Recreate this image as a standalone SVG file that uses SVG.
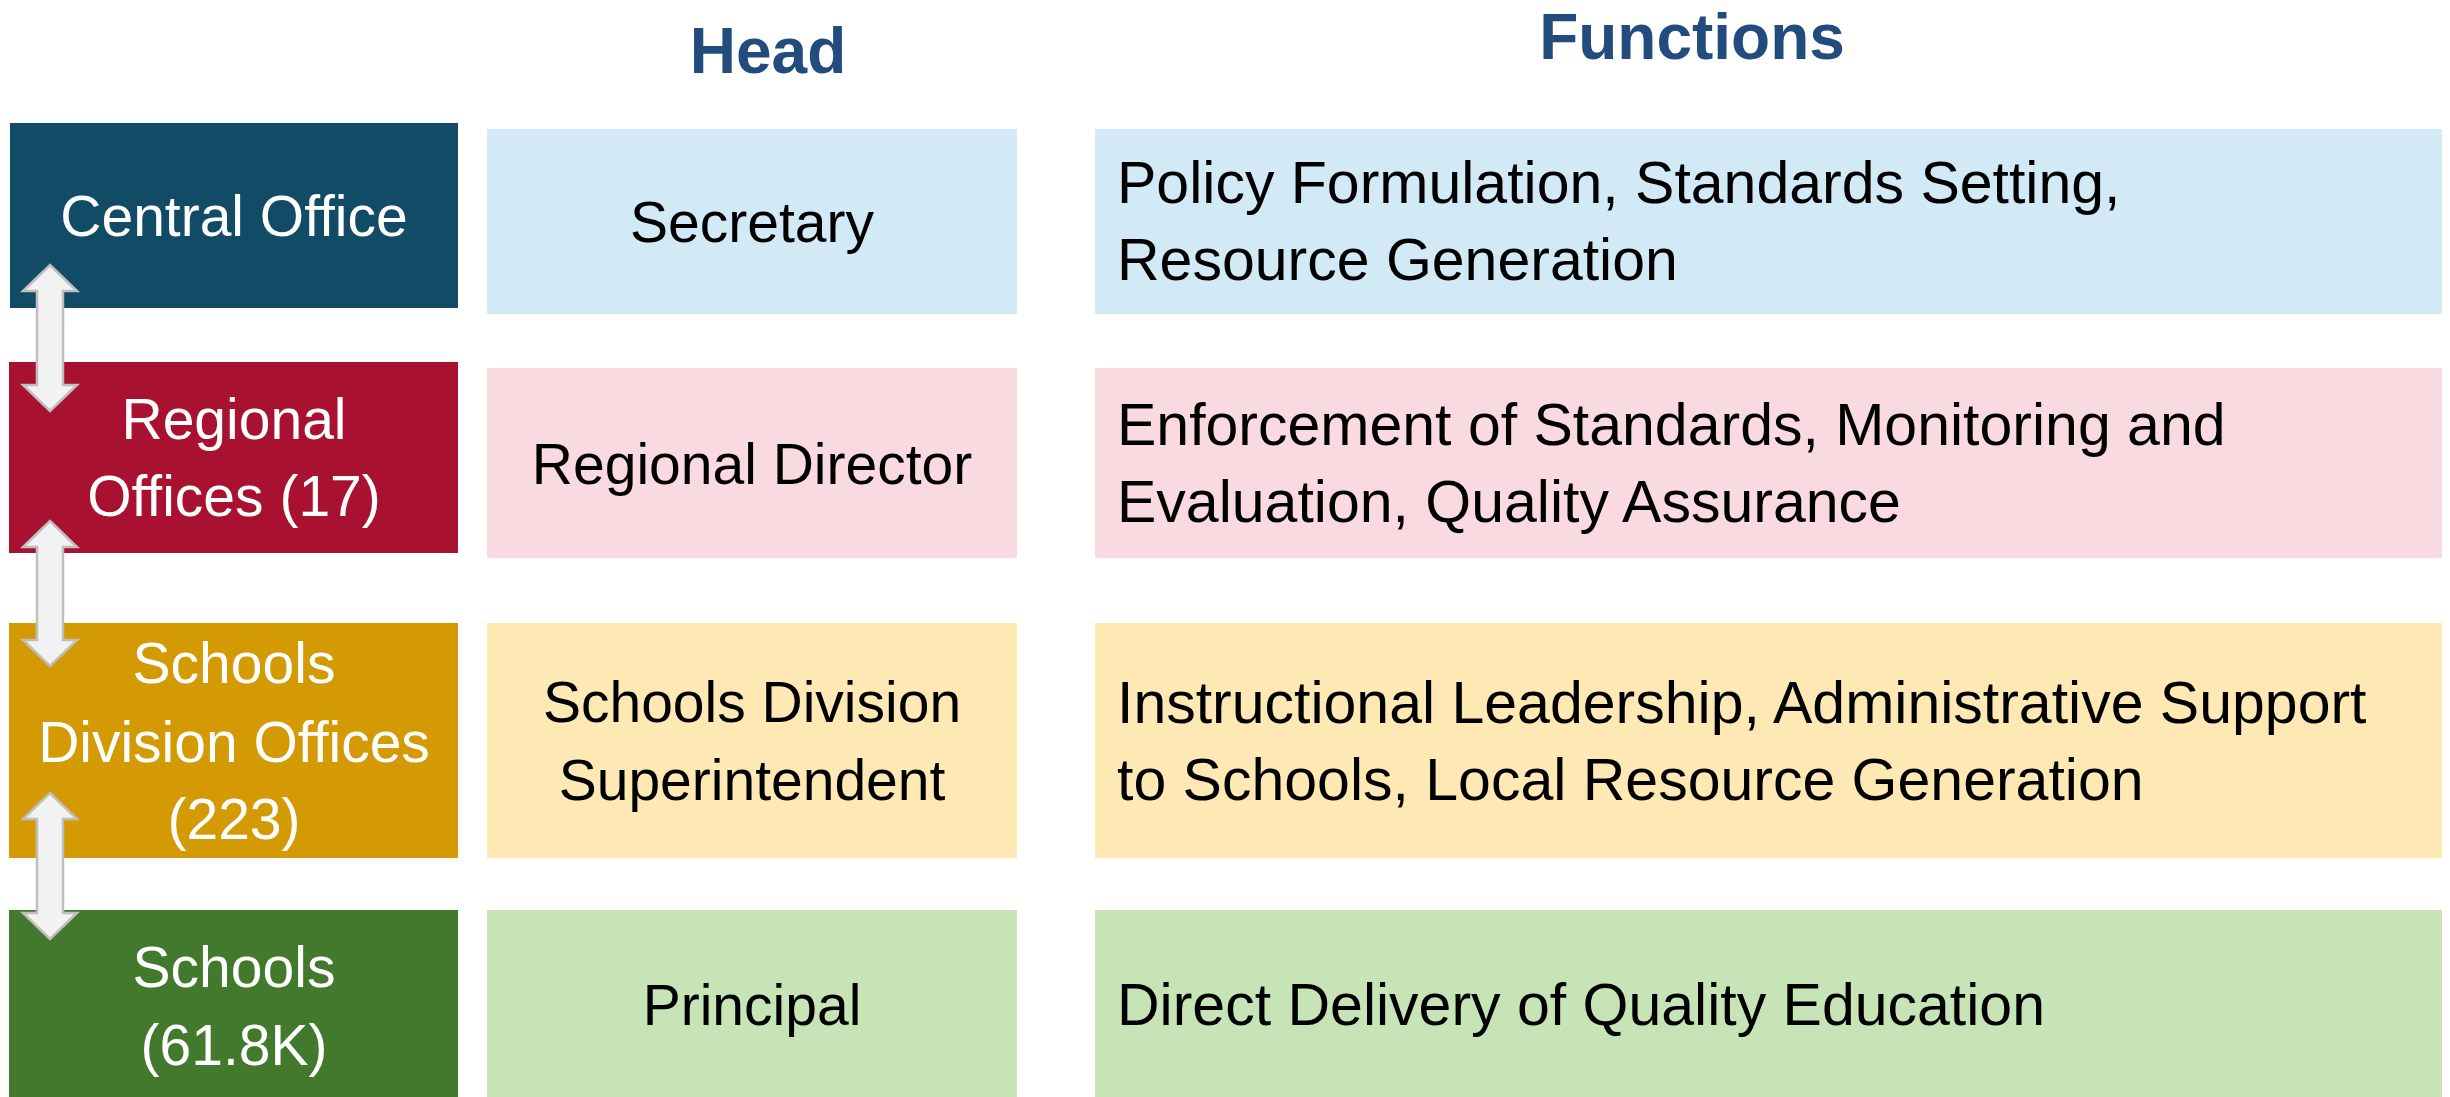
<svg xmlns="http://www.w3.org/2000/svg" width="2450" height="1097" viewBox="0 0 2450 1097">
<style>
.t{font-family:"Liberation Sans",Arial,sans-serif;font-size:57px}
.f{font-size:59px}
.w{fill:#ffffff}
.k{fill:#000000}
.h{font-family:"Liberation Sans",Arial,sans-serif;font-size:64px;font-weight:bold;fill:#234C7E}
.arr{fill:#F2F2F2;stroke:#BFBFBF;stroke-width:2.5}
</style>
<rect width="2450" height="1097" fill="#ffffff"/>
<g id="titles">
<text class="h" x="768" y="73" text-anchor="middle">Head</text>
<text class="h" x="1692" y="59" text-anchor="middle">Functions</text>
</g>
<g id="central">
<rect x="10" y="123" width="448" height="185" fill="#124B65"/>
<text class="t w" x="234" y="236" text-anchor="middle">Central Office</text>
</g>
<g id="regional">
<rect x="9" y="362" width="449" height="191" fill="#A8112F"/>
<text class="t w" x="234" y="439" text-anchor="middle">Regional</text>
<text class="t w" x="234" y="516" text-anchor="middle">Offices (17)</text>
</g>
<g id="division">
<rect x="9" y="623" width="449" height="235" fill="#D49A03"/>
<text class="t w" x="234" y="683" text-anchor="middle">Schools</text>
<text class="t w" x="234" y="762" text-anchor="middle">Division Offices</text>
<text class="t w" x="234" y="839" text-anchor="middle">(223)</text>
</g>
<g id="schools">
<rect x="9" y="910" width="449" height="190" fill="#42792D"/>
<text class="t w" x="234" y="987" text-anchor="middle">Schools</text>
<text class="t w" x="234" y="1065" text-anchor="middle">(61.8K)</text>
</g>
<g id="head-secretary">
<rect x="487" y="129" width="530" height="185" fill="#D2E9F6"/>
<text class="t k" x="752" y="242" text-anchor="middle">Secretary</text>
</g>
<g id="head-regional">
<rect x="487" y="368" width="530" height="190" fill="#FADAE1"/>
<text class="t k" x="752" y="484" text-anchor="middle">Regional Director</text>
</g>
<g id="head-division">
<rect x="487" y="623" width="530" height="235" fill="#FEE8B3"/>
<text class="t k" x="752" y="722" text-anchor="middle">Schools Division</text>
<text class="t k" x="752" y="800" text-anchor="middle">Superintendent</text>
</g>
<g id="head-principal">
<rect x="487" y="910" width="530" height="190" fill="#C6E4B6"/>
<text class="t k" x="752" y="1025" text-anchor="middle">Principal</text>
</g>
<g id="func-central">
<rect x="1095" y="129" width="1347" height="185" fill="#D2E9F6"/>
<text class="t f k" x="1117" y="203">Policy Formulation, Standards Setting,</text>
<text class="t f k" x="1117" y="280">Resource Generation</text>
</g>
<g id="func-regional">
<rect x="1095" y="368" width="1347" height="190" fill="#FADAE1"/>
<text class="t f k" x="1117" y="445">Enforcement of Standards, Monitoring and</text>
<text class="t f k" x="1117" y="522">Evaluation, Quality Assurance</text>
</g>
<g id="func-division">
<rect x="1095" y="623" width="1347" height="235" fill="#FEE8B3"/>
<text class="t f k" x="1117" y="723">Instructional Leadership, Administrative Support</text>
<text class="t f k" x="1117" y="800">to Schools, Local Resource Generation</text>
</g>
<g id="func-schools">
<rect x="1095" y="910" width="1347" height="190" fill="#C6E4B6"/>
<text class="t f k" x="1117" y="1025">Direct Delivery of Quality Education</text>
</g>
<g id="connectors">
<path class="arr" d="M50,265 L77,291 L63,291 L63,385 L77,385 L50,411 L23,385 L37,385 L37,291 L23,291 Z"/>
<path class="arr" d="M50,521 L77,547 L63,547 L63,640 L77,640 L50,666 L23,640 L37,640 L37,547 L23,547 Z"/>
<path class="arr" d="M50,793 L77,819 L63,819 L63,913 L77,913 L50,939 L23,913 L37,913 L37,819 L23,819 Z"/>
</g>
</svg>
